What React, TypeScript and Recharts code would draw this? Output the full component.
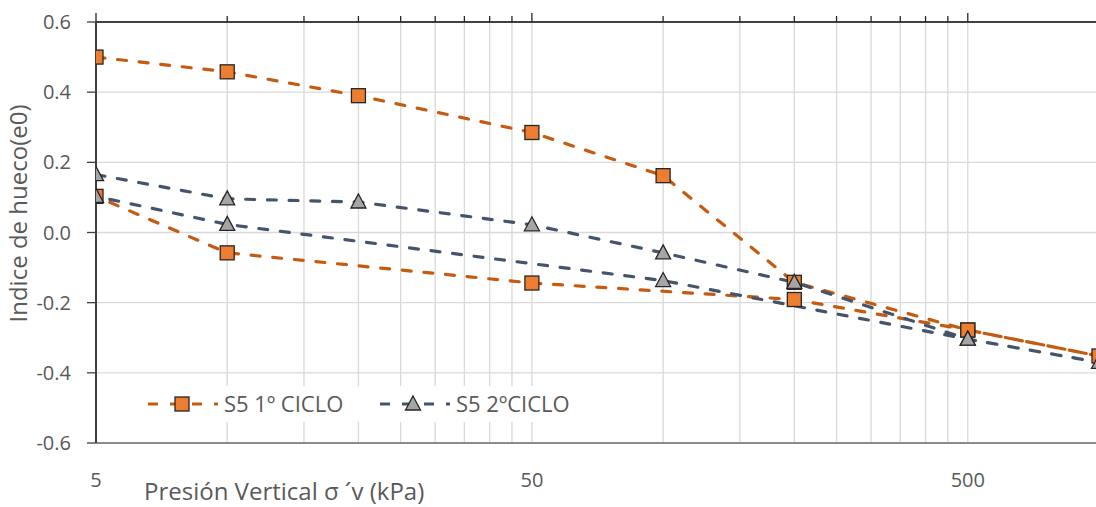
import { LineChart, Line, XAxis, YAxis, CartesianGrid, Legend } from "recharts";

// pressure steps (kPa) and void ratio readings
const ciclo1X = [5, 10, 20, 50, 100, 200, 500, 1000, 500, 200, 50, 10, 5];
const ciclo1E = [0.5, 0.458, 0.39, 0.285, 0.162, -0.142, -0.278, -0.352, -0.278, -0.191, -0.144, -0.058, 0.103];

const ciclo2X = [5, 10, 20, 50, 100, 200, 500, 1000, 500, 100, 10, 5];
const ciclo2E = [0.165, 0.096, 0.087, 0.022, -0.058, -0.142, -0.304, -0.37, -0.304, -0.137, 0.023, 0.103];

const gridTicks = [5, 10, 15, 20, 25, 30, 35, 40, 45, 50, 100, 150, 200, 250, 300, 350, 400, 450, 500, 1000];
const labelTicks = [5, 50, 500];
const yTicks = [-0.6, -0.4, -0.2, 0, 0.2, 0.4, 0.6];

const ciclo1 = ciclo1X.map((x, i) => ({ x, e: ciclo1E[i] }));
const ciclo2 = ciclo2X.map((x, i) => ({ x, e: ciclo2E[i] }));

const ORANGE_LINE = "#C55A11";
const ORANGE_FILL = "#ED7D31";
const GRAY_LINE = "#44546A";
const GRAY_FILL = "#A5A5A5";
const TEXT = "#595959";
const FONT = "'Open Sans', sans-serif";
const DASH = "9 12.7";

const Square = (props: any) => {
    const { cx, cy } = props;
    if (cx == null || cy == null) return null;
    return <rect x={cx - 7} y={cy - 7} width={14} height={14} fill={ORANGE_FILL} stroke="#262626" strokeWidth={1.3} />;
};

const Triangle = (props: any) => {
    const { cx, cy } = props;
    if (cx == null || cy == null) return null;
    return (
        <polygon
            points={`${cx},${cy - 8} ${cx + 7.5},${cy + 6} ${cx - 7.5},${cy + 6}`}
            fill={GRAY_FILL}
            stroke="#262626"
            strokeWidth={1.3}
        />
    );
};

const BottomTick = (props: any) => {
    const { x, y, payload } = props;
    if (!labelTicks.includes(payload.value)) return null;
    return (
        <text x={x} y={y + 44} textAnchor="middle" fontSize={20} fill={TEXT} fontFamily={FONT}>
            {payload.value}
        </text>
    );
};

const TopTick = (props: any) => {
    const { x, y, payload } = props;
    const len = labelTicks.includes(payload.value) ? 9 : 6;
    return <line x1={x} x2={x} y1={y} y2={y - len} stroke="#262626" strokeWidth={1.3} />;
};

const LegendBox = () => (
    <svg width={450} height={36} style={{ display: "block", background: "#fff" }}>
        <line x1={8} x2={78} y1={18} y2={18} stroke={ORANGE_LINE} strokeWidth={3} strokeDasharray="10 12" />
        <Square cx={42} cy={18} />
        <text x={84} y={26} fontSize={22} fill={TEXT} fontFamily={FONT}>S5 1º CICLO</text>
        <line x1={240} x2={310} y1={18} y2={18} stroke={GRAY_LINE} strokeWidth={3} strokeDasharray="10 12" />
        <Triangle cx={273} cy={18} />
        <text x={316} y={26} fontSize={22} fill={TEXT} fontFamily={FONT}>S5 2ºCICLO</text>
    </svg>
);

export default function App() {
    return (
        <div style={{ position: "absolute", left: 0, top: 0, width: 1096, height: 507, background: "#fff" }}>
            <LineChart width={1096} height={507} margin={{ top: 0, right: -3, bottom: 0, left: 0 }}>
                <CartesianGrid stroke="#d9d9d9" strokeWidth={1.3} />
                <XAxis
                    dataKey="x"
                    type="number"
                    scale="log"
                    domain={[5, 1000]}
                    allowDataOverflow
                    ticks={gridTicks}
                    interval={0}
                    height={64}
                    tickLine={false}
                    tickSize={0}
                    tickMargin={0}
                    tick={<BottomTick />}
                    axisLine={{ stroke: "#8c8c8c", strokeWidth: 2 }}
                    label={{ value: "Presión Vertical σ ´v (kPa)", position: "insideBottomLeft", offset: 0, dx: 48, dy: -7, fontSize: 24, fill: TEXT, fontFamily: FONT }}
                />
                <XAxis
                    xAxisId="top"
                    orientation="top"
                    dataKey="x"
                    type="number"
                    scale="log"
                    domain={[5, 1000]}
                    allowDataOverflow
                    ticks={gridTicks}
                    interval={0}
                    height={22}
                    tickLine={false}
                    tickSize={0}
                    tickMargin={0}
                    tick={<TopTick />}
                    axisLine={{ stroke: "#404040", strokeWidth: 2 }}
                />
                <YAxis
                    type="number"
                    domain={[-0.6, 0.6]}
                    ticks={yTicks}
                    interval={0}
                    width={96}
                    tickSize={9}
                    tickMargin={16}
                    tickFormatter={(v: number) => v.toFixed(1)}
                    tick={{ fontSize: 20, fill: TEXT, fontFamily: FONT }}
                    tickLine={{ stroke: "#404040", strokeWidth: 1.3 }}
                    axisLine={{ stroke: "#404040", strokeWidth: 2 }}
                    label={{ value: "Indice de hueco(e0)", angle: -90, position: "insideLeft", dx: 13, dy: -19, style: { textAnchor: "middle" }, fontSize: 24, fill: TEXT, fontFamily: FONT }}
                />
                <Legend
                    layout="horizontal"
                    verticalAlign="middle"
                    align="center"
                    content={<LegendBox />}
                    wrapperStyle={{ left: 140, top: 386, width: 450, height: 36 }}
                />
                <Line
                    data={ciclo1}
                    dataKey="e"
                    name="S5 1º CICLO"
                    stroke={ORANGE_LINE}
                    strokeWidth={3.2}
                    strokeDasharray={DASH}
                    strokeLinecap="round"
                    dot={<Square />}
                    activeDot={false}
                    isAnimationActive={false}
                />
                <Line
                    data={ciclo2}
                    dataKey="e"
                    name="S5 2ºCICLO"
                    stroke={GRAY_LINE}
                    strokeWidth={3.2}
                    strokeDasharray={DASH}
                    strokeLinecap="round"
                    dot={<Triangle />}
                    activeDot={false}
                    isAnimationActive={false}
                />
            </LineChart>
        </div>
    );
}
